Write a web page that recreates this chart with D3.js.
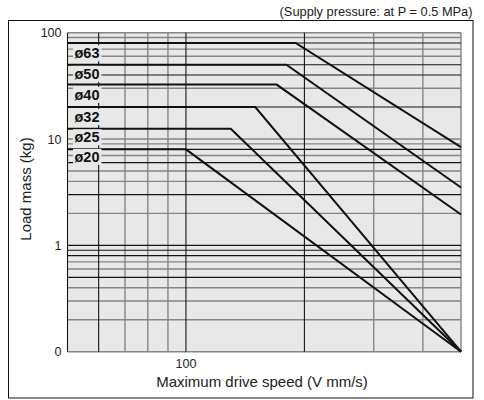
<!DOCTYPE html>
<html><head><meta charset="utf-8">
<script src="https://cdn.jsdelivr.net/npm/d3@7"></script>
<style>body{margin:0;background:#fff}svg{display:block}text{font-family:"Liberation Sans",Arial,sans-serif}</style>
</head><body>
<svg id="c" width="484" height="400"></svg>
<script>
// ---- data ----
const series = ["ø63", "ø50", "ø40", "ø32", "ø25", "ø20"];
const breakSpeed = [190, 180, 170, 150, 130, 100];      // mm/s where the plateau ends
const plateauMass = [80, 50, 32.5, 20, 12.5, 8];         // kg
const endSpeed = [500, 500, 500, 500, 500, 500];
const endMass = [8.4, 3.5, 1.95, 0.1, 0.1, 0.1];
const labelMass = [64, 41, 26, 16.1, 10.4, 6.8];          // kg level of the size labels
const xGrid = [50, 60, 70, 80, 90, 100, 200, 300, 400, 500];
const xDark = [50, 60, 100, 200];
const yGrid = [0.1,0.2,0.3,0.4,0.5,0.6,0.7,0.8,0.9,1,2,3,4,5,6,7,8,9,10,20,30,40,50,60,70,80,90,100];
const yDark = [0.5, 0.8, 0.9, 1, 3, 6, 8, 20, 40, 50, 80];
const xTicks = [100];
const xTickLabels = ["100"];
const yTicks = [100, 10, 1, 0.1];
const yTickLabels = ["100", "10", "1", "0"];

const svg = d3.select("#c");
const x = d3.scaleLog().domain([50, 500]).range([67.5, 461]);
const y = d3.scaleLog().domain([0.1, 100]).range([351.7, 32.7]);

// frame
svg.append("rect").attr("x", 8.5).attr("y", 20.5).attr("width", 464.5).attr("height", 377.5)
  .attr("fill", "none").attr("stroke", "#111").attr("stroke-width", 1);

// subtitle
svg.append("text").attr("x", 472.5).attr("y", 15.5).attr("text-anchor", "end")
  .attr("font-size", 12.8).attr("fill", "#222").text("(Supply pressure: at P = 0.5 MPa)");

// plot background
svg.append("rect").attr("x", x(50)).attr("y", y(100)).attr("width", x(500) - x(50)).attr("height", y(0.1) - y(100))
  .attr("fill", "#e7e8e7");

const g = svg.append("g");
const isDarkX = v => xDark.includes(v);
const isDarkY = v => yDark.some(d => Math.abs(d - v) < 1e-9);

// gray grid first
g.selectAll(".hg").data(yGrid.filter(v => !isDarkY(v))).join("line")
  .attr("x1", x(50)).attr("x2", x(500)).attr("y1", d => y(d)).attr("y2", d => y(d))
  .attr("stroke", "#858585").attr("stroke-width", 1.4);
g.selectAll(".vg").data(xGrid.filter(v => !isDarkX(v))).join("line")
  .attr("y1", y(0.1)).attr("y2", y(100)).attr("x1", d => x(d)).attr("x2", d => x(d))
  .attr("stroke", "#858585").attr("stroke-width", 1.4);
// dark grid
g.selectAll(".hd").data(yGrid.filter(isDarkY)).join("line")
  .attr("x1", x(50)).attr("x2", x(500)).attr("y1", d => y(d)).attr("y2", d => y(d))
  .attr("stroke", "#151515").attr("stroke-width", 1.1);
g.selectAll(".vd").data(xGrid.filter(isDarkX)).join("line")
  .attr("y1", y(0.1)).attr("y2", y(100)).attr("x1", d => x(d)).attr("x2", d => x(d))
  .attr("stroke", "#151515").attr("stroke-width", 1.1);

// series
const line = d3.line().x(d => x(d[0])).y(d => y(d[1]));
const pts = series.map((s, i) => [[50, plateauMass[i]], [breakSpeed[i], plateauMass[i]], [endSpeed[i], endMass[i]]]);
svg.selectAll(".s").data(pts).join("path")
  .attr("d", line).attr("fill", "none").attr("stroke", "#111").attr("stroke-width", 2)
  .attr("stroke-linejoin", "miter");

// labels
const lab = svg.selectAll(".lab").data(series).join("g")
  .attr("transform", (d, i) => `translate(${x(50)},${y(labelMass[i])})`);
lab.append("rect").attr("x", 5.5).attr("y", -8).attr("width", 28.5).attr("height", 16).attr("fill", "#e7e8e7");
lab.append("text").attr("x", 7).attr("y", 5).attr("font-size", 14.5).attr("font-weight", "bold")
  .attr("fill", "#111").text(d => d);

// y tick labels
svg.selectAll(".yt").data(yTicks).join("text")
  .attr("x", 61.5).attr("y", d => y(d) + 4.5).attr("text-anchor", "end")
  .attr("font-size", 12.5).attr("fill", "#222").text((d, i) => yTickLabels[i]);
// x tick labels
svg.selectAll(".xt").data(xTicks).join("text")
  .attr("x", d => x(d)).attr("y", 367.5).attr("text-anchor", "middle")
  .attr("font-size", 12.5).attr("fill", "#222").text((d, i) => xTickLabels[i]);

// axis titles
svg.append("text").attr("x", 262).attr("y", 387).attr("text-anchor", "middle")
  .attr("font-size", 15).attr("fill", "#222").text("Maximum drive speed (V mm/s)");
svg.append("text").attr("transform", "translate(30.5,189) rotate(-90)").attr("text-anchor", "middle")
  .attr("font-size", 15).attr("fill", "#222").text("Load mass (kg)");
</script>
</body></html>
